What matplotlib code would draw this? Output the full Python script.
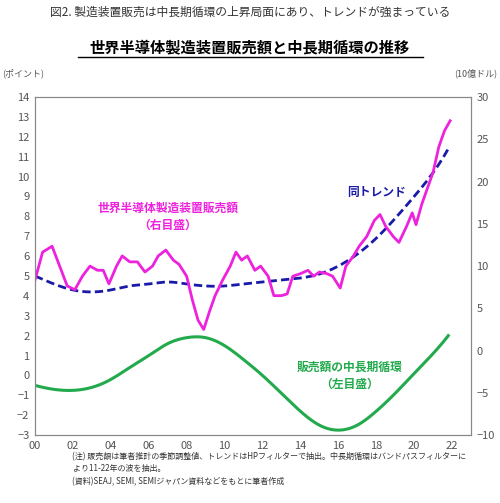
import matplotlib
matplotlib.use("Agg")
import matplotlib.pyplot as plt
import numpy as np

plt.rcParams['font.family'] = ['Noto Sans CJK JP', 'DejaVu Sans']

sales_x = [0.0,0.4,0.9,1.3,1.7,2.1,2.5,2.9,3.3,3.6,3.9,4.3,4.6,5.0,5.4,5.8,6.2,6.5,6.9,7.3,7.6,8.0,8.3,8.6,8.9,9.2,9.5,9.9,10.3,10.6,10.9,11.2,11.6,11.9,12.3,12.6,13.0,13.3,13.6,14.0,14.4,14.7,15.0,15.4,15.7,16.1,16.4,16.8,17.1,17.5,17.9,18.2,18.5,18.9,19.2,19.6,19.9,20.1,20.4,20.7,21.0,21.3,21.6,21.9]
sales = [8.35,11.65,12.35,10.0,7.65,7.2,8.8,10.0,9.5,9.5,7.9,10.0,11.2,10.5,10.5,9.3,10.0,11.2,11.9,10.7,10.2,8.8,6.0,3.6,2.5,4.6,6.5,8.35,10.0,11.65,10.7,11.2,9.5,10.0,8.8,6.5,6.5,6.7,8.8,9.1,9.5,8.8,9.3,9.1,8.8,7.4,10.0,11.2,12.35,13.5,15.4,16.1,14.7,13.5,12.8,14.7,16.3,14.9,17.3,19.2,21.1,24.1,26.0,27.2]
trend_x = [0,1,2,3,4,5,6,7,8,9,10,11,12,13,14,15,16,17,18,19,20,21,21.8]
trend = [5.0,4.6,4.3,4.2,4.3,4.5,4.6,4.7,4.6,4.5,4.5,4.6,4.7,4.8,4.9,5.1,5.5,6.1,6.9,7.9,9.0,10.2,11.4]
cycle = [-0.5,-0.7,-0.75,-0.6,-0.2,0.4,1.0,1.6,1.9,1.9,1.5,0.8,0.0,-0.9,-1.8,-2.5,-2.75,-2.5,-1.8,-0.9,0.1,1.1,2.0]
xticks = list(range(0, 23, 2))
xlabels = [f"{t:02d}" for t in xticks]

fig = plt.figure(figsize=(5, 5.03), dpi=100)
ax = fig.add_axes([0.07, 0.135, 0.872, 0.672])
ax2 = ax.twinx()

from scipy.interpolate import make_interp_spline
def smooth(x, y, n=300):
    xs = np.linspace(min(x), max(x), n)
    return xs, make_interp_spline(x, y, k=3)(xs)

xs, ys = smooth(trend_x, trend)
ax.plot(xs, ys, color='#1a1aa8', lw=2, ls=(0, (3, 1.5)))
xs, ys = smooth(trend_x, cycle)
ax.plot(xs, ys, color='#22aa4c', lw=2.2)
ax2.plot(sales_x, sales, color='#ee22dd', lw=2)

ax.set_xlim(0, 23)
ax.set_ylim(-3, 14)
ax.set_yticks(range(-3, 15))
ax2.set_ylim(-10, 30)
ax2.set_yticks(range(-10, 31, 5))
ax.set_xticks(xticks)
ax.set_xticklabels(xlabels)
for a in (ax, ax2):
    a.tick_params(length=0, labelsize=8, colors='#555555', pad=4)
    for s in a.spines.values():
        s.set_color('#888888')

fig.text(0.5, 0.975, "図2. 製造装置販売は中長期循環の上昇局面にあり、トレンドが強まっている", ha='center', va='center', fontsize=8.5, color='#333333')
fig.text(0.5, 0.905, "世界半導体製造装置販売額と中長期循環の推移", ha='center', va='center', fontsize=11, fontweight='bold')
fig.add_artist(plt.Line2D([0.155, 0.845], [0.886, 0.886], color='black', lw=1))
fig.text(0.005, 0.855, "(ポイント)", fontsize=6.5, color='#555555', va='center')
fig.text(0.995, 0.855, "(10億ドル)", fontsize=6.5, color='#555555', va='center', ha='right')

ax.text(7.0, 8.0, "世界半導体製造装置販売額\n（右目盛）", color='#ee22dd', fontsize=8.5, fontweight='bold', ha='center', va='center', linespacing=1.4)
ax.text(18.0, 9.2, "同トレンド", color='#1a1aa8', fontsize=8.5, fontweight='bold', ha='center', va='center')
ax.text(16.6, 0.0, "販売額の中長期循環\n（左目盛）", color='#22aa4c', fontsize=8.5, fontweight='bold', ha='center', va='center', linespacing=1.4)

fig.text(0.145, 0.068, "(注) 販売額は筆者推計の季節調整値、トレンドはHPフィルターで抽出。中長期循環はバンドパスフィルターに\nより11-22年の波を抽出。\n(資料)SEAJ, SEMI, SEMIジャパン資料などをもとに筆者作成", fontsize=5.8, va='center', linespacing=1.5, color='#333333')

fig.savefig("out.png", dpi=100)
